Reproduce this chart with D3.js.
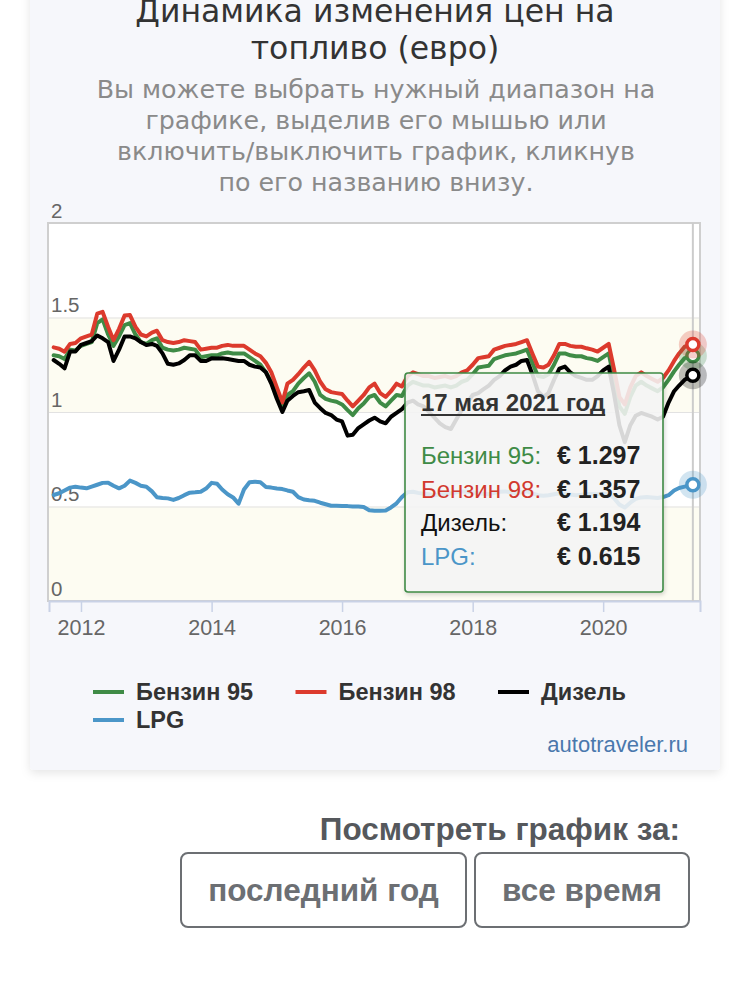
<!DOCTYPE html>
<html>
<head>
<meta charset="utf-8">
<script src="https://cdn.jsdelivr.net/npm/d3@7"></script>
<style>
  body { margin: 0; background: #fff; }
  svg { display: block; }
</style>
</head>
<body>
<svg width="750" height="990"></svg>
<script>
// monthly readings, last point is the tooltip date
const dates = [
  "2011-08-01","2011-09-01","2011-10-01","2011-11-01","2011-12-01",
  "2012-01-01","2012-02-01","2012-03-01","2012-04-01","2012-05-01","2012-06-01","2012-07-01","2012-08-01","2012-09-01","2012-10-01","2012-11-01","2012-12-01",
  "2013-01-01","2013-02-01","2013-03-01","2013-04-01","2013-05-01","2013-06-01","2013-07-01","2013-08-01","2013-09-01","2013-10-01","2013-11-01","2013-12-01",
  "2014-01-01","2014-02-01","2014-03-01","2014-04-01","2014-05-01","2014-06-01","2014-07-01","2014-08-01","2014-09-01","2014-10-01","2014-11-01","2014-12-01",
  "2015-01-01","2015-02-01","2015-03-01","2015-04-01","2015-05-01","2015-06-01","2015-07-01","2015-08-01","2015-09-01","2015-10-01","2015-11-01","2015-12-01",
  "2016-01-01","2016-02-01","2016-03-01","2016-04-01","2016-05-01","2016-06-01","2016-07-01","2016-08-01","2016-09-01","2016-10-01","2016-11-01","2016-12-01",
  "2017-01-01","2017-02-01","2017-03-01","2017-04-01","2017-05-01","2017-06-01","2017-07-01","2017-08-01","2017-09-01","2017-10-01","2017-11-01","2017-12-01",
  "2018-01-01","2018-02-01","2018-03-01","2018-04-01","2018-05-01","2018-06-01","2018-07-01","2018-08-01","2018-09-01","2018-10-01","2018-11-01","2018-12-01",
  "2019-01-01","2019-02-01","2019-03-01","2019-04-01","2019-05-01","2019-06-01","2019-07-01","2019-08-01","2019-09-01","2019-10-01","2019-11-01","2019-12-01",
  "2020-01-01","2020-02-01","2020-03-01","2020-04-01","2020-05-01","2020-06-01","2020-07-01","2020-08-01","2020-09-01","2020-10-01","2020-11-01","2020-12-01",
  "2021-01-01","2021-02-01","2021-03-01","2021-04-01","2021-05-17"
];

const benzin95 = [
  1.300, 1.295, 1.280, 1.330, 1.325,
  1.350, 1.360, 1.370, 1.470, 1.490, 1.410, 1.350, 1.400, 1.460, 1.470, 1.410, 1.370,
  1.360, 1.380, 1.390, 1.340, 1.330, 1.325, 1.330, 1.340, 1.335, 1.330, 1.290, 1.295,
  1.300, 1.300, 1.310, 1.315, 1.310, 1.310, 1.310, 1.290, 1.270, 1.250, 1.210, 1.160,
  1.080, 1.020, 1.090, 1.110, 1.150, 1.180, 1.205, 1.160, 1.090, 1.070, 1.060, 1.054,
  1.040, 1.010, 0.984, 1.020, 1.045, 1.080, 1.090, 1.050, 1.030, 1.060, 1.090, 1.085,
  1.140, 1.160, 1.150, 1.140, 1.140, 1.130, 1.135, 1.140, 1.130, 1.140, 1.160, 1.170,
  1.200, 1.235, 1.240, 1.245, 1.280, 1.290, 1.300, 1.305, 1.310, 1.320, 1.330, 1.260,
  1.190, 1.185, 1.200, 1.250, 1.310, 1.310, 1.300, 1.295, 1.295, 1.285, 1.280, 1.270,
  1.290, 1.310, 1.180, 1.030, 0.990, 1.080, 1.140, 1.160, 1.140, 1.125, 1.110, 1.130,
  1.170, 1.215, 1.250, 1.285, 1.297
];

const benzin98 = [
  1.342, 1.335, 1.319, 1.360, 1.365,
  1.390, 1.400, 1.410, 1.520, 1.530, 1.450, 1.380, 1.440, 1.510, 1.513, 1.450, 1.410,
  1.400, 1.420, 1.430, 1.380, 1.370, 1.365, 1.370, 1.380, 1.375, 1.370, 1.330, 1.335,
  1.340, 1.340, 1.350, 1.355, 1.350, 1.350, 1.350, 1.330, 1.310, 1.295, 1.260, 1.210,
  1.130, 1.050, 1.150, 1.170, 1.200, 1.235, 1.265, 1.220, 1.160, 1.120, 1.105, 1.100,
  1.095, 1.060, 1.030, 1.060, 1.090, 1.130, 1.150, 1.100, 1.080, 1.110, 1.150, 1.135,
  1.190, 1.210, 1.200, 1.190, 1.190, 1.180, 1.185, 1.190, 1.180, 1.190, 1.210, 1.220,
  1.250, 1.285, 1.290, 1.295, 1.330, 1.340, 1.350, 1.355, 1.360, 1.370, 1.380, 1.310,
  1.240, 1.235, 1.250, 1.300, 1.360, 1.360, 1.350, 1.345, 1.345, 1.337, 1.330, 1.320,
  1.340, 1.360, 1.230, 1.080, 1.040, 1.130, 1.190, 1.210, 1.190, 1.175, 1.160, 1.180,
  1.220, 1.270, 1.310, 1.345, 1.357
];

const dizel = [
  1.275, 1.255, 1.231, 1.320, 1.320,
  1.355, 1.365, 1.375, 1.405, 1.390, 1.370, 1.270, 1.330, 1.400, 1.400, 1.390, 1.370,
  1.354, 1.360, 1.350, 1.310, 1.255, 1.250, 1.257, 1.275, 1.300, 1.300, 1.270, 1.270,
  1.284, 1.283, 1.284, 1.280, 1.275, 1.270, 1.270, 1.250, 1.240, 1.235, 1.210, 1.150,
  1.070, 1.000, 1.060, 1.085, 1.105, 1.110, 1.116, 1.050, 1.020, 0.995, 0.984, 0.960,
  0.950, 0.875, 0.880, 0.915, 0.935, 0.955, 0.970, 0.950, 0.940, 0.975, 0.995, 1.015,
  1.050, 1.060, 1.040, 1.030, 1.000, 0.970, 0.940, 0.920, 0.910, 0.960, 1.010, 1.050,
  1.090, 1.100, 1.120, 1.140, 1.170, 1.190, 1.220, 1.240, 1.250, 1.270, 1.275, 1.200,
  1.110, 1.080, 1.100, 1.170, 1.230, 1.240, 1.210, 1.190, 1.180, 1.170, 1.170, 1.190,
  1.220, 1.240, 1.100, 0.930, 0.840, 0.930, 0.980, 0.995, 0.985, 0.975, 0.960, 0.975,
  1.050, 1.110, 1.140, 1.170, 1.194
];

const lpg = [
  0.561, 0.570, 0.585, 0.600, 0.605,
  0.600, 0.596, 0.605, 0.615, 0.625, 0.626, 0.610, 0.596, 0.610, 0.637, 0.625, 0.610,
  0.605, 0.580, 0.549, 0.545, 0.543, 0.535, 0.545, 0.560, 0.573, 0.575, 0.578, 0.595,
  0.625, 0.620, 0.590, 0.565, 0.548, 0.515, 0.590, 0.628, 0.631, 0.628, 0.603, 0.600,
  0.595, 0.592, 0.585, 0.578, 0.550, 0.537, 0.533, 0.530, 0.520, 0.512, 0.504, 0.504,
  0.503, 0.502, 0.500, 0.500, 0.497, 0.480, 0.478, 0.478, 0.479, 0.495, 0.517, 0.550,
  0.575, 0.578, 0.572, 0.568, 0.565, 0.560, 0.563, 0.566, 0.570, 0.575, 0.580, 0.578,
  0.575, 0.570, 0.568, 0.565, 0.572, 0.578, 0.580, 0.575, 0.570, 0.575, 0.580, 0.570,
  0.560, 0.557, 0.560, 0.565, 0.570, 0.567, 0.563, 0.560, 0.562, 0.565, 0.566, 0.565,
  0.568, 0.565, 0.545, 0.510, 0.495, 0.520, 0.540, 0.548, 0.550, 0.548, 0.545, 0.550,
  0.560, 0.585, 0.598, 0.605, 0.615
];

const seriesNames = ["Бензин 95", "Бензин 98", "Дизель", "LPG"];
const yTicks = [0, 0.5, 1, 1.5, 2];
const xTickYears = ["2012", "2014", "2016", "2018", "2020"];
const monthsGen = ["января","февраля","марта","апреля","мая","июня","июля","августа","сентября","октября","ноября","декабря"];

const titleLines = ["Динамика изменения цен на", "топливо (евро)"];
const subtitleLines = [
  "Вы можете выбрать нужный диапазон на",
  "графике, выделив его мышью или",
  "включить/выключить график, кликнув",
  "по его названию внизу."
];

const colors = ["#3f8b46", "#dc3a2d", "#000000", "#4b96c8"];
const tooltipTextColors = ["#3f8b46", "#d2392e", "#111111", "#4b96c8"];

const svg = d3.select("svg");
const parse = d3.timeParse("%Y-%m-%d");
const dateObjs = dates.map(parse);
const values = [benzin95, benzin98, dizel, lpg];
const series = seriesNames.map((name, i) => ({
  name, color: colors[i],
  points: dateObjs.map((d, j) => ({ date: d, value: values[i][j] }))
}));

const plot = { left: 49, top: 223, right: 700, bottom: 601 };
const fontMain = "'Liberation Sans', Arial, sans-serif";
const fontTitle = "'DejaVu Sans', sans-serif";

const defs = svg.append("defs");
const sh = defs.append("filter").attr("id", "cardShadow")
  .attr("x", "-5%").attr("y", "-5%").attr("width", "110%").attr("height", "110%");
sh.append("feDropShadow").attr("dx", 0).attr("dy", 3).attr("stdDeviation", 5)
  .attr("flood-color", "#000").attr("flood-opacity", 0.10);
const sh2 = defs.append("filter").attr("id", "tipShadow")
  .attr("x", "-10%").attr("y", "-10%").attr("width", "120%").attr("height", "120%");
sh2.append("feDropShadow").attr("dx", 1).attr("dy", 2).attr("stdDeviation", 2)
  .attr("flood-color", "#000").attr("flood-opacity", 0.18);

// card
svg.append("rect")
  .attr("x", 30).attr("y", -20).attr("width", 690).attr("height", 790)
  .attr("rx", 4).attr("fill", "#f6f7fb").attr("filter", "url(#cardShadow)");

// title + subtitle
svg.append("g").selectAll("text").data(titleLines).join("text")
  .attr("x", 375).attr("y", (d, i) => 22 + i * 37)
  .attr("text-anchor", "middle")
  .attr("font-family", fontTitle).attr("font-size", 31.5)
  .attr("fill", "#333").text(d => d);

svg.append("g").selectAll("text").data(subtitleLines).join("text")
  .attr("x", 376).attr("y", (d, i) => 98 + i * 31)
  .attr("text-anchor", "middle")
  .attr("font-family", fontTitle).attr("font-size", 25.3)
  .attr("fill", "#8a8a8a").text(d => d);

// scales
const x = d3.scaleTime()
  .domain([new Date(2011, 6, 6), new Date(2021, 5, 26)])
  .range([plot.left, plot.right]);
const y = d3.scaleLinear().domain([0, 2]).range([plot.bottom, plot.top]);

// plot background
svg.append("rect")
  .attr("x", plot.left).attr("y", plot.top)
  .attr("width", plot.right - plot.left).attr("height", plot.bottom - plot.top)
  .attr("fill", "#fff");

// alternate bands
const bands = d3.pairs(yTicks).filter((p, i) => i % 2 === 0);
svg.append("g").selectAll("rect").data(bands).join("rect")
  .attr("x", plot.left).attr("width", plot.right - plot.left)
  .attr("y", d => y(d[1])).attr("height", d => y(d[0]) - y(d[1]))
  .attr("fill", "#fdfcf2");

// y axis: grid + labels inside
const yAxisG = svg.append("g")
  .attr("transform", `translate(${plot.left},0)`)
  .call(d3.axisRight(y).tickValues(yTicks).tickSize(plot.right - plot.left).tickFormat(d3.format("")));
yAxisG.select(".domain").remove();
yAxisG.selectAll(".tick line").attr("stroke", "#e2e2e2").attr("stroke-width", 1.2);
yAxisG.selectAll(".tick text")
  .attr("x", 2).attr("dy", -6).attr("text-anchor", "start")
  .attr("font-family", fontMain).attr("font-size", 20.5).attr("fill", "#666");

// plot border
svg.append("rect")
  .attr("x", plot.left - 1).attr("y", plot.top)
  .attr("width", plot.right - plot.left + 1).attr("height", plot.bottom - plot.top)
  .attr("fill", "none").attr("stroke", "#cfcfcf").attr("stroke-width", 2);

// x axis
const xAxisG = svg.append("g")
  .attr("transform", `translate(0,${plot.bottom})`)
  .call(d3.axisBottom(x)
    .tickValues(xTickYears.map(d => d3.timeParse("%Y")(d)))
    .tickFormat(d3.timeFormat("%Y"))
    .tickSize(11).tickPadding(8));
xAxisG.select(".domain").attr("stroke", "#c9d2e6").attr("stroke-width", 2);
xAxisG.selectAll(".tick line").attr("stroke", "#c9d2e6").attr("stroke-width", 1.5);
xAxisG.selectAll(".tick text")
  .attr("font-family", fontMain).attr("font-size", 21.5).attr("fill", "#666");

// crosshair at hovered date
const hoverDate = dateObjs[dateObjs.length - 1];
svg.append("line")
  .attr("x1", x(hoverDate)).attr("x2", x(hoverDate))
  .attr("y1", plot.top).attr("y2", plot.bottom)
  .attr("stroke", "#cccccc").attr("stroke-width", 2);

// lines
const line = d3.line().x(d => x(d.date)).y(d => y(d.value));
svg.append("g").selectAll("path").data(series).join("path")
  .attr("d", d => line(d.points))
  .attr("fill", "none")
  .attr("stroke", d => d.color)
  .attr("stroke-width", 4)
  .attr("stroke-linejoin", "round")
  .attr("stroke-linecap", "round");

// hover markers
const last = series.map(s => s.points[s.points.length - 1]);
const mk = svg.append("g").selectAll("g").data(series).join("g")
  .attr("transform", d => {
    const p = d.points[d.points.length - 1];
    return `translate(${x(p.date)},${y(p.value)})`;
  });
mk.append("circle").attr("r", 14).attr("fill", d => d.color).attr("opacity", 0.25);
mk.append("circle").attr("r", 6).attr("fill", "#fff")
  .attr("stroke", d => d.color).attr("stroke-width", 3.5);

// tooltip
const tip = svg.append("g").attr("transform", "translate(405,373)");
tip.append("rect")
  .attr("width", 258).attr("height", 219).attr("rx", 3)
  .attr("fill", "#f7f7f7").attr("fill-opacity", 0.86)
  .attr("stroke", colors[0]).attr("stroke-width", 1.6)
  .attr("filter", "url(#tipShadow)");
const dateLabel = `${hoverDate.getDate()} ${monthsGen[hoverDate.getMonth()]} ${hoverDate.getFullYear()} год`;
const dt = tip.append("text")
  .attr("x", 16).attr("y", 38)
  .attr("font-family", fontMain).attr("font-size", 24).attr("font-weight", "bold")
  .attr("fill", "#333").text(dateLabel);
const dtw = dt.node().getComputedTextLength();
tip.append("line").attr("x1", 16).attr("x2", 16 + dtw)
  .attr("y1", 42).attr("y2", 42).attr("stroke", "#333").attr("stroke-width", 1.8);

const rows = tip.append("g").selectAll("g").data(series).join("g")
  .attr("transform", (d, i) => `translate(0,${91 + i * 33.7})`);
rows.append("text")
  .attr("x", 16).attr("font-family", fontMain).attr("font-size", 24)
  .attr("fill", (d, i) => tooltipTextColors[i]).text(d => d.name + ":");
rows.append("text")
  .attr("x", 152).attr("font-family", fontMain).attr("font-size", 25).attr("font-weight", "bold")
  .attr("fill", "#222").text((d, i) => "€ " + d3.format(".3f")(last[i].value));

// legend
const legend = svg.append("g").selectAll("g").data(series).join("g")
  .attr("transform", (d, i) => `translate(${93 + (i % 3) * 202.5},${692 + Math.floor(i / 3) * 28})`);
legend.append("line").attr("x1", 0).attr("x2", 31)
  .attr("stroke", d => d.color).attr("stroke-width", 4);
legend.append("text").attr("x", 43).attr("y", 8)
  .attr("font-family", fontMain).attr("font-size", 23.5).attr("font-weight", "bold")
  .attr("fill", "#333").text(d => d.name);

// credits
svg.append("text").attr("x", 688).attr("y", 752).attr("text-anchor", "end")
  .attr("font-family", fontMain).attr("font-size", 22).attr("fill", "#4a78ad")
  .text("autotraveler.ru");

// range buttons
svg.append("text").attr("x", 680).attr("y", 840).attr("text-anchor", "end")
  .attr("font-family", fontMain).attr("font-size", 31.5).attr("font-weight", "bold")
  .attr("fill", "#55585c").text("Посмотреть график за:");

const buttons = [
  { label: "последний год", x: 181, w: 285 },
  { label: "все время", x: 475, w: 214 }
];
const btn = svg.append("g").selectAll("g").data(buttons).join("g")
  .attr("transform", d => `translate(${d.x},853)`);
btn.append("rect").attr("width", d => d.w).attr("height", 74).attr("rx", 7)
  .attr("fill", "#fff").attr("stroke", "#6c6f73").attr("stroke-width", 2);
btn.append("text").attr("x", d => d.w / 2).attr("y", 48).attr("text-anchor", "middle")
  .attr("font-family", fontMain).attr("font-size", 31.5).attr("font-weight", "bold")
  .attr("fill", "#6c6f73").text(d => d.label);
</script>
</body>
</html>
